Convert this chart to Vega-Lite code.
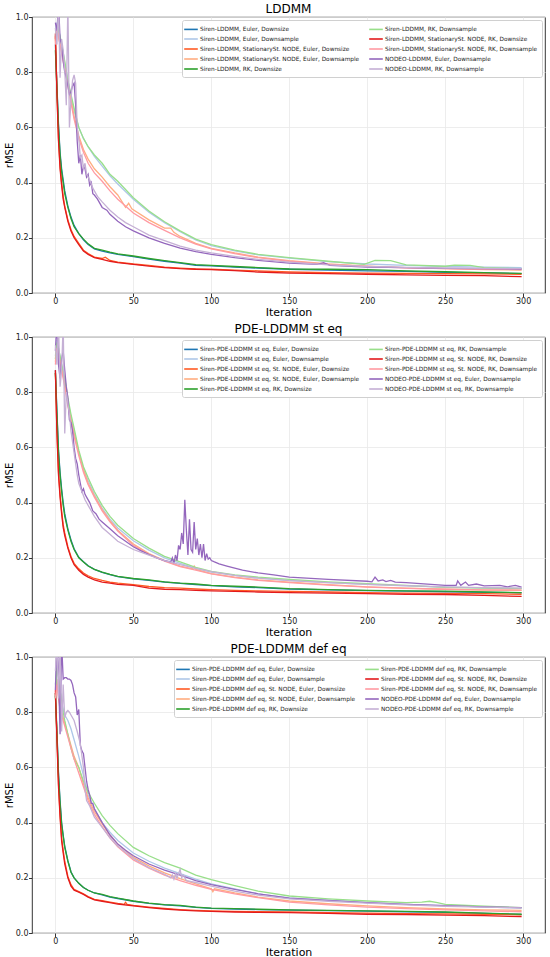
{
  "$schema": "https://vega.github.io/schema/vega-lite/v6.json",
  "padding": {"left": 3, "top": 2, "right": 2, "bottom": 0},
  "spacing": 4,
  "config": {
    "font": "DejaVu Sans",
    "view": {"stroke": "#000", "strokeWidth": 0.8},
    "axis": {"domain": false, "grid": true, "gridColor": "#e8e8e8", "gridWidth": 0.8, "tickColor": "#000", "tickSize": 3.5, "tickWidth": 0.8, "labelFontSize": 8, "labelColor": "#222", "labelPadding": 0.5, "titleFontSize": 10, "titleFontWeight": "normal", "titleColor": "#000", "titlePadding": 1},
    "axisX": {"titleFontSize": 11},
    "title": {"fontSize": 12, "fontWeight": "normal", "offset": -3, "color": "#000"},
    "legend": {"orient": "top-right", "offset": 3, "columns": 2, "symbolType": "M-1.7,0H1.7", "symbolSize": 64, "symbolStrokeWidth": 1.6, "labelFontSize": 5.8, "labelColor": "#222", "labelLimit": 300, "rowPadding": 1, "columnPadding": 6, "fillColor": "white", "strokeColor": "#d0d0d0", "padding": 4, "cornerRadius": 2, "title": null}
  },
  "datasets": {
    "names": [
      {"s":1,"n1":"Siren-LDDMM, Euler, Downsize","n2":"Siren-PDE-LDDMM st eq, Euler, Downsize","n3":"Siren-PDE-LDDMM def eq, Euler, Downsize"},
      {"s":2,"n1":"Siren-LDDMM, Euler, Downsample","n2":"Siren-PDE-LDDMM st eq, Euler, Downsample","n3":"Siren-PDE-LDDMM def eq, Euler, Downsample"},
      {"s":3,"n1":"Siren-LDDMM, StationarySt. NODE, Euler, Downsize","n2":"Siren-PDE-LDDMM st eq, St. NODE, Euler, Downsize","n3":"Siren-PDE-LDDMM def eq, St. NODE, Euler, Downsize"},
      {"s":4,"n1":"Siren-LDDMM, StationarySt. NODE, Euler, Downsample","n2":"Siren-PDE-LDDMM st eq, St. NODE, Euler, Downsample","n3":"Siren-PDE-LDDMM def eq, St. NODE, Euler, Downsample"},
      {"s":5,"n1":"Siren-LDDMM, RK, Downsize","n2":"Siren-PDE-LDDMM st eq, RK, Downsize","n3":"Siren-PDE-LDDMM def eq, RK, Downsize"},
      {"s":6,"n1":"Siren-LDDMM, RK, Downsample","n2":"Siren-PDE-LDDMM st eq, RK, Downsample","n3":"Siren-PDE-LDDMM def eq, RK, Downsample"},
      {"s":7,"n1":"Siren-LDDMM, StationarySt. NODE, RK, Downsize","n2":"Siren-PDE-LDDMM st eq, St. NODE, RK, Downsize","n3":"Siren-PDE-LDDMM def eq, St. NODE, RK, Downsize"},
      {"s":8,"n1":"Siren-LDDMM, StationarySt. NODE, RK, Downsample","n2":"Siren-PDE-LDDMM st eq, St. NODE, RK, Downsample","n3":"Siren-PDE-LDDMM def eq, St. NODE, RK, Downsample"},
      {"s":9,"n1":"NODEO-LDDMM, Euler, Downsample","n2":"NODEO-PDE-LDDMM st eq, Euler, Downsample","n3":"NODEO-PDE-LDDMM def eq, Euler, Downsample"},
      {"s":10,"n1":"NODEO-LDDMM, RK, Downsample","n2":"NODEO-PDE-LDDMM st eq, RK, Downsample","n3":"NODEO-PDE-LDDMM def eq, RK, Downsample"}
    ],
    "lddmm": [
      {"s":1,"x":0,"y":0.9},{"s":1,"x":1,"y":0.75},{"s":1,"x":2,"y":0.61},{"s":1,"x":3,"y":0.51},{"s":1,"x":4,"y":0.45},{"s":1,"x":5,"y":0.41},{"s":1,"x":6,"y":0.37},{"s":1,"x":8,"y":0.315},{"s":1,"x":10,"y":0.275},{"s":1,"x":12,"y":0.245},{"s":1,"x":15,"y":0.215},{"s":1,"x":18,"y":0.193},{"s":1,"x":21,"y":0.176},{"s":1,"x":25,"y":0.16},{"s":1,"x":30,"y":0.152},{"s":1,"x":35,"y":0.145},{"s":1,"x":40,"y":0.14},{"s":1,"x":50,"y":0.132},{"s":1,"x":60,"y":0.123},{"s":1,"x":70,"y":0.115},{"s":1,"x":80,"y":0.108},{"s":1,"x":90,"y":0.1},{"s":1,"x":100,"y":0.098},{"s":1,"x":115,"y":0.094},{"s":1,"x":130,"y":0.09},{"s":1,"x":150,"y":0.086},{"s":1,"x":175,"y":0.083},{"s":1,"x":200,"y":0.08},{"s":1,"x":225,"y":0.078},{"s":1,"x":250,"y":0.075},{"s":1,"x":275,"y":0.073},{"s":1,"x":299,"y":0.07},
      {"s":2,"x":0,"y":0.95},{"s":2,"x":1,"y":0.98},{"s":2,"x":2,"y":0.96},{"s":2,"x":3,"y":0.93},{"s":2,"x":4,"y":0.9},{"s":2,"x":5,"y":0.87},{"s":2,"x":6,"y":0.83},{"s":2,"x":8,"y":0.77},{"s":2,"x":10,"y":0.71},{"s":2,"x":12,"y":0.66},{"s":2,"x":15,"y":0.6},{"s":2,"x":18,"y":0.56},{"s":2,"x":21,"y":0.53},{"s":2,"x":25,"y":0.495},{"s":2,"x":30,"y":0.46},{"s":2,"x":35,"y":0.425},{"s":2,"x":40,"y":0.395},{"s":2,"x":50,"y":0.34},{"s":2,"x":60,"y":0.293},{"s":2,"x":70,"y":0.255},{"s":2,"x":80,"y":0.222},{"s":2,"x":90,"y":0.192},{"s":2,"x":100,"y":0.172},{"s":2,"x":115,"y":0.153},{"s":2,"x":130,"y":0.138},{"s":2,"x":150,"y":0.126},{"s":2,"x":175,"y":0.114},{"s":2,"x":200,"y":0.105},{"s":2,"x":225,"y":0.1},{"s":2,"x":250,"y":0.096},{"s":2,"x":275,"y":0.094},{"s":2,"x":299,"y":0.092},
      {"s":3,"x":0,"y":0.93},{"s":3,"x":1,"y":0.73},{"s":3,"x":2,"y":0.56},{"s":3,"x":3,"y":0.46},{"s":3,"x":4,"y":0.4},{"s":3,"x":5,"y":0.35},{"s":3,"x":6,"y":0.315},{"s":3,"x":8,"y":0.265},{"s":3,"x":10,"y":0.23},{"s":3,"x":12,"y":0.205},{"s":3,"x":15,"y":0.18},{"s":3,"x":18,"y":0.155},{"s":3,"x":21,"y":0.143},{"s":3,"x":25,"y":0.13},{"s":3,"x":30,"y":0.125},{"s":3,"x":32,"y":0.13},{"s":3,"x":35,"y":0.118},{"s":3,"x":40,"y":0.112},{"s":3,"x":50,"y":0.105},{"s":3,"x":60,"y":0.1},{"s":3,"x":70,"y":0.094},{"s":3,"x":80,"y":0.09},{"s":3,"x":90,"y":0.087},{"s":3,"x":100,"y":0.086},{"s":3,"x":115,"y":0.083},{"s":3,"x":130,"y":0.08},{"s":3,"x":150,"y":0.076},{"s":3,"x":175,"y":0.074},{"s":3,"x":200,"y":0.072},{"s":3,"x":225,"y":0.071},{"s":3,"x":250,"y":0.07},{"s":3,"x":275,"y":0.069},{"s":3,"x":299,"y":0.068},
      {"s":4,"x":0,"y":0.92},{"s":4,"x":1,"y":0.97},{"s":4,"x":2,"y":0.93},{"s":4,"x":3,"y":0.9},{"s":4,"x":4,"y":0.87},{"s":4,"x":5,"y":0.85},{"s":4,"x":6,"y":0.82},{"s":4,"x":8,"y":0.76},{"s":4,"x":10,"y":0.7},{"s":4,"x":12,"y":0.64},{"s":4,"x":15,"y":0.57},{"s":4,"x":18,"y":0.52},{"s":4,"x":21,"y":0.485},{"s":4,"x":25,"y":0.45},{"s":4,"x":30,"y":0.42},{"s":4,"x":35,"y":0.385},{"s":4,"x":40,"y":0.355},{"s":4,"x":45,"y":0.31},{"s":4,"x":47,"y":0.325},{"s":4,"x":49,"y":0.305},{"s":4,"x":60,"y":0.265},{"s":4,"x":70,"y":0.235},{"s":4,"x":74,"y":0.235},{"s":4,"x":76,"y":0.22},{"s":4,"x":80,"y":0.205},{"s":4,"x":90,"y":0.18},{"s":4,"x":100,"y":0.162},{"s":4,"x":115,"y":0.145},{"s":4,"x":130,"y":0.13},{"s":4,"x":150,"y":0.117},{"s":4,"x":175,"y":0.105},{"s":4,"x":200,"y":0.097},{"s":4,"x":225,"y":0.092},{"s":4,"x":250,"y":0.088},{"s":4,"x":275,"y":0.085},{"s":4,"x":299,"y":0.083},
      {"s":5,"x":0,"y":0.88},{"s":5,"x":1,"y":0.74},{"s":5,"x":2,"y":0.6},{"s":5,"x":3,"y":0.5},{"s":5,"x":4,"y":0.44},{"s":5,"x":5,"y":0.4},{"s":5,"x":6,"y":0.36},{"s":5,"x":8,"y":0.31},{"s":5,"x":10,"y":0.27},{"s":5,"x":12,"y":0.24},{"s":5,"x":15,"y":0.215},{"s":5,"x":18,"y":0.195},{"s":5,"x":21,"y":0.178},{"s":5,"x":25,"y":0.162},{"s":5,"x":30,"y":0.155},{"s":5,"x":35,"y":0.148},{"s":5,"x":40,"y":0.142},{"s":5,"x":50,"y":0.134},{"s":5,"x":60,"y":0.125},{"s":5,"x":70,"y":0.117},{"s":5,"x":80,"y":0.11},{"s":5,"x":90,"y":0.103},{"s":5,"x":100,"y":0.1},{"s":5,"x":115,"y":0.096},{"s":5,"x":130,"y":0.092},{"s":5,"x":150,"y":0.087},{"s":5,"x":175,"y":0.086},{"s":5,"x":200,"y":0.085},{"s":5,"x":225,"y":0.08},{"s":5,"x":250,"y":0.077},{"s":5,"x":275,"y":0.074},{"s":5,"x":299,"y":0.071},
      {"s":6,"x":0,"y":0.93},{"s":6,"x":1,"y":0.97},{"s":6,"x":2,"y":0.95},{"s":6,"x":3,"y":0.93},{"s":6,"x":4,"y":0.9},{"s":6,"x":5,"y":0.87},{"s":6,"x":6,"y":0.84},{"s":6,"x":8,"y":0.77},{"s":6,"x":10,"y":0.72},{"s":6,"x":12,"y":0.67},{"s":6,"x":15,"y":0.6},{"s":6,"x":18,"y":0.56},{"s":6,"x":21,"y":0.53},{"s":6,"x":25,"y":0.5},{"s":6,"x":30,"y":0.47},{"s":6,"x":35,"y":0.43},{"s":6,"x":40,"y":0.405},{"s":6,"x":50,"y":0.345},{"s":6,"x":60,"y":0.297},{"s":6,"x":70,"y":0.258},{"s":6,"x":80,"y":0.225},{"s":6,"x":90,"y":0.195},{"s":6,"x":100,"y":0.175},{"s":6,"x":115,"y":0.155},{"s":6,"x":130,"y":0.14},{"s":6,"x":150,"y":0.128},{"s":6,"x":175,"y":0.115},{"s":6,"x":198,"y":0.104},{"s":6,"x":205,"y":0.118},{"s":6,"x":215,"y":0.117},{"s":6,"x":225,"y":0.102},{"s":6,"x":250,"y":0.097},{"s":6,"x":256,"y":0.101},{"s":6,"x":266,"y":0.1},{"s":6,"x":275,"y":0.092},{"s":6,"x":299,"y":0.088},
      {"s":7,"x":0,"y":0.94},{"s":7,"x":1,"y":0.72},{"s":7,"x":2,"y":0.55},{"s":7,"x":3,"y":0.45},{"s":7,"x":4,"y":0.39},{"s":7,"x":5,"y":0.34},{"s":7,"x":6,"y":0.31},{"s":7,"x":8,"y":0.26},{"s":7,"x":10,"y":0.225},{"s":7,"x":12,"y":0.2},{"s":7,"x":15,"y":0.175},{"s":7,"x":18,"y":0.152},{"s":7,"x":21,"y":0.14},{"s":7,"x":25,"y":0.128},{"s":7,"x":30,"y":0.122},{"s":7,"x":35,"y":0.115},{"s":7,"x":40,"y":0.11},{"s":7,"x":50,"y":0.104},{"s":7,"x":60,"y":0.097},{"s":7,"x":70,"y":0.092},{"s":7,"x":80,"y":0.088},{"s":7,"x":90,"y":0.086},{"s":7,"x":100,"y":0.085},{"s":7,"x":115,"y":0.081},{"s":7,"x":130,"y":0.076},{"s":7,"x":150,"y":0.072},{"s":7,"x":175,"y":0.07},{"s":7,"x":200,"y":0.068},{"s":7,"x":225,"y":0.066},{"s":7,"x":250,"y":0.064},{"s":7,"x":275,"y":0.063},{"s":7,"x":299,"y":0.059},
      {"s":8,"x":0,"y":0.9},{"s":8,"x":1,"y":0.96},{"s":8,"x":2,"y":0.93},{"s":8,"x":3,"y":0.9},{"s":8,"x":4,"y":0.87},{"s":8,"x":5,"y":0.84},{"s":8,"x":6,"y":0.81},{"s":8,"x":8,"y":0.75},{"s":8,"x":10,"y":0.69},{"s":8,"x":12,"y":0.63},{"s":8,"x":15,"y":0.56},{"s":8,"x":18,"y":0.51},{"s":8,"x":21,"y":0.47},{"s":8,"x":25,"y":0.435},{"s":8,"x":30,"y":0.405},{"s":8,"x":35,"y":0.37},{"s":8,"x":40,"y":0.34},{"s":8,"x":50,"y":0.29},{"s":8,"x":60,"y":0.255},{"s":8,"x":70,"y":0.227},{"s":8,"x":80,"y":0.2},{"s":8,"x":90,"y":0.177},{"s":8,"x":100,"y":0.16},{"s":8,"x":115,"y":0.143},{"s":8,"x":130,"y":0.128},{"s":8,"x":150,"y":0.115},{"s":8,"x":175,"y":0.104},{"s":8,"x":200,"y":0.096},{"s":8,"x":225,"y":0.091},{"s":8,"x":250,"y":0.088},{"s":8,"x":275,"y":0.086},{"s":8,"x":299,"y":0.085},
      {"s":9,"x":0,"y":0.98},{"s":9,"x":1,"y":0.95},{"s":9,"x":2,"y":1.05},{"s":9,"x":3,"y":0.92},{"s":9,"x":4,"y":0.9},{"s":9,"x":5,"y":0.84},{"s":9,"x":6,"y":0.8},{"s":9,"x":7,"y":0.78},{"s":9,"x":8,"y":0.75},{"s":9,"x":9,"y":0.72},{"s":9,"x":10,"y":0.73},{"s":9,"x":11,"y":0.75},{"s":9,"x":12,"y":0.76},{"s":9,"x":13,"y":0.68},{"s":9,"x":14,"y":0.55},{"s":9,"x":15,"y":0.47},{"s":9,"x":16,"y":0.5},{"s":9,"x":17,"y":0.43},{"s":9,"x":18,"y":0.46},{"s":9,"x":19,"y":0.45},{"s":9,"x":20,"y":0.42},{"s":9,"x":21,"y":0.43},{"s":9,"x":22,"y":0.39},{"s":9,"x":23,"y":0.4},{"s":9,"x":24,"y":0.36},{"s":9,"x":25,"y":0.355},{"s":9,"x":27,"y":0.34},{"s":9,"x":28,"y":0.33},{"s":9,"x":30,"y":0.31},{"s":9,"x":33,"y":0.3},{"s":9,"x":35,"y":0.285},{"s":9,"x":40,"y":0.26},{"s":9,"x":45,"y":0.24},{"s":9,"x":50,"y":0.225},{"s":9,"x":60,"y":0.2},{"s":9,"x":70,"y":0.18},{"s":9,"x":80,"y":0.163},{"s":9,"x":90,"y":0.15},{"s":9,"x":100,"y":0.14},{"s":9,"x":115,"y":0.128},{"s":9,"x":130,"y":0.118},{"s":9,"x":150,"y":0.108},{"s":9,"x":168,"y":0.104},{"s":9,"x":172,"y":0.11},{"s":9,"x":176,"y":0.1},{"s":9,"x":200,"y":0.094},{"s":9,"x":225,"y":0.092},{"s":9,"x":250,"y":0.089},{"s":9,"x":275,"y":0.088},{"s":9,"x":299,"y":0.087},
      {"s":10,"x":0,"y":0.96},{"s":10,"x":1,"y":0.9},{"s":10,"x":2,"y":1.05},{"s":10,"x":3,"y":0.78},{"s":10,"x":4,"y":0.92},{"s":10,"x":5,"y":0.88},{"s":10,"x":6,"y":0.81},{"s":10,"x":7,"y":0.68},{"s":10,"x":8,"y":1.05},{"s":10,"x":9,"y":0.6},{"s":10,"x":10,"y":0.7},{"s":10,"x":11,"y":0.77},{"s":10,"x":12,"y":0.79},{"s":10,"x":13,"y":0.76},{"s":10,"x":14,"y":0.6},{"s":10,"x":15,"y":0.56},{"s":10,"x":16,"y":0.49},{"s":10,"x":17,"y":0.5},{"s":10,"x":18,"y":0.45},{"s":10,"x":19,"y":0.47},{"s":10,"x":20,"y":0.43},{"s":10,"x":22,"y":0.41},{"s":10,"x":24,"y":0.38},{"s":10,"x":25,"y":0.37},{"s":10,"x":27,"y":0.35},{"s":10,"x":30,"y":0.33},{"s":10,"x":35,"y":0.3},{"s":10,"x":40,"y":0.275},{"s":10,"x":45,"y":0.255},{"s":10,"x":50,"y":0.24},{"s":10,"x":60,"y":0.21},{"s":10,"x":70,"y":0.19},{"s":10,"x":80,"y":0.17},{"s":10,"x":90,"y":0.155},{"s":10,"x":100,"y":0.145},{"s":10,"x":115,"y":0.133},{"s":10,"x":130,"y":0.122},{"s":10,"x":150,"y":0.112},{"s":10,"x":175,"y":0.102},{"s":10,"x":200,"y":0.096},{"s":10,"x":225,"y":0.093},{"s":10,"x":250,"y":0.09},{"s":10,"x":275,"y":0.089},{"s":10,"x":299,"y":0.088}
    ],
    "st": [
      {"s":1,"x":0,"y":0.88},{"s":1,"x":1,"y":0.73},{"s":1,"x":2,"y":0.59},{"s":1,"x":3,"y":0.51},{"s":1,"x":4,"y":0.45},{"s":1,"x":5,"y":0.4},{"s":1,"x":6,"y":0.36},{"s":1,"x":8,"y":0.305},{"s":1,"x":10,"y":0.265},{"s":1,"x":12,"y":0.233},{"s":1,"x":15,"y":0.202},{"s":1,"x":18,"y":0.186},{"s":1,"x":21,"y":0.171},{"s":1,"x":25,"y":0.158},{"s":1,"x":30,"y":0.147},{"s":1,"x":35,"y":0.139},{"s":1,"x":40,"y":0.132},{"s":1,"x":50,"y":0.124},{"s":1,"x":60,"y":0.118},{"s":1,"x":70,"y":0.112},{"s":1,"x":80,"y":0.107},{"s":1,"x":90,"y":0.103},{"s":1,"x":100,"y":0.099},{"s":1,"x":115,"y":0.095},{"s":1,"x":130,"y":0.092},{"s":1,"x":150,"y":0.087},{"s":1,"x":175,"y":0.084},{"s":1,"x":200,"y":0.081},{"s":1,"x":225,"y":0.079},{"s":1,"x":250,"y":0.077},{"s":1,"x":275,"y":0.075},{"s":1,"x":299,"y":0.073},
      {"s":2,"x":0,"y":0.93},{"s":2,"x":1,"y":0.99},{"s":2,"x":2,"y":0.96},{"s":2,"x":3,"y":0.93},{"s":2,"x":4,"y":0.9},{"s":2,"x":5,"y":0.87},{"s":2,"x":6,"y":0.84},{"s":2,"x":8,"y":0.77},{"s":2,"x":10,"y":0.71},{"s":2,"x":12,"y":0.66},{"s":2,"x":15,"y":0.58},{"s":2,"x":18,"y":0.52},{"s":2,"x":21,"y":0.48},{"s":2,"x":25,"y":0.43},{"s":2,"x":30,"y":0.38},{"s":2,"x":35,"y":0.34},{"s":2,"x":40,"y":0.308},{"s":2,"x":50,"y":0.262},{"s":2,"x":60,"y":0.228},{"s":2,"x":70,"y":0.2},{"s":2,"x":80,"y":0.18},{"s":2,"x":90,"y":0.162},{"s":2,"x":100,"y":0.148},{"s":2,"x":115,"y":0.136},{"s":2,"x":130,"y":0.127},{"s":2,"x":150,"y":0.118},{"s":2,"x":175,"y":0.11},{"s":2,"x":200,"y":0.104},{"s":2,"x":225,"y":0.098},{"s":2,"x":250,"y":0.094},{"s":2,"x":275,"y":0.091},{"s":2,"x":299,"y":0.089},
      {"s":3,"x":0,"y":0.87},{"s":3,"x":1,"y":0.66},{"s":3,"x":2,"y":0.51},{"s":3,"x":3,"y":0.43},{"s":3,"x":4,"y":0.37},{"s":3,"x":5,"y":0.32},{"s":3,"x":6,"y":0.29},{"s":3,"x":8,"y":0.24},{"s":3,"x":10,"y":0.205},{"s":3,"x":12,"y":0.18},{"s":3,"x":15,"y":0.16},{"s":3,"x":18,"y":0.145},{"s":3,"x":21,"y":0.135},{"s":3,"x":25,"y":0.125},{"s":3,"x":30,"y":0.118},{"s":3,"x":35,"y":0.112},{"s":3,"x":40,"y":0.108},{"s":3,"x":50,"y":0.103},{"s":3,"x":60,"y":0.096},{"s":3,"x":70,"y":0.092},{"s":3,"x":80,"y":0.09},{"s":3,"x":90,"y":0.087},{"s":3,"x":100,"y":0.085},{"s":3,"x":115,"y":0.082},{"s":3,"x":130,"y":0.08},{"s":3,"x":150,"y":0.078},{"s":3,"x":175,"y":0.076},{"s":3,"x":200,"y":0.074},{"s":3,"x":225,"y":0.072},{"s":3,"x":250,"y":0.071},{"s":3,"x":275,"y":0.07},{"s":3,"x":299,"y":0.068},
      {"s":4,"x":0,"y":0.91},{"s":4,"x":1,"y":0.97},{"s":4,"x":2,"y":0.95},{"s":4,"x":3,"y":0.92},{"s":4,"x":4,"y":0.89},{"s":4,"x":5,"y":0.86},{"s":4,"x":6,"y":0.83},{"s":4,"x":8,"y":0.76},{"s":4,"x":10,"y":0.7},{"s":4,"x":12,"y":0.65},{"s":4,"x":15,"y":0.58},{"s":4,"x":18,"y":0.52},{"s":4,"x":21,"y":0.47},{"s":4,"x":25,"y":0.425},{"s":4,"x":30,"y":0.375},{"s":4,"x":35,"y":0.335},{"s":4,"x":40,"y":0.3},{"s":4,"x":50,"y":0.25},{"s":4,"x":60,"y":0.215},{"s":4,"x":70,"y":0.19},{"s":4,"x":80,"y":0.17},{"s":4,"x":88,"y":0.16},{"s":4,"x":89,"y":0.17},{"s":4,"x":90,"y":0.158},{"s":4,"x":100,"y":0.143},{"s":4,"x":115,"y":0.13},{"s":4,"x":130,"y":0.12},{"s":4,"x":150,"y":0.112},{"s":4,"x":175,"y":0.103},{"s":4,"x":200,"y":0.095},{"s":4,"x":225,"y":0.09},{"s":4,"x":250,"y":0.086},{"s":4,"x":275,"y":0.083},{"s":4,"x":299,"y":0.082},
      {"s":5,"x":0,"y":0.87},{"s":5,"x":1,"y":0.72},{"s":5,"x":2,"y":0.58},{"s":5,"x":3,"y":0.5},{"s":5,"x":4,"y":0.44},{"s":5,"x":5,"y":0.39},{"s":5,"x":6,"y":0.35},{"s":5,"x":8,"y":0.3},{"s":5,"x":10,"y":0.26},{"s":5,"x":12,"y":0.23},{"s":5,"x":15,"y":0.2},{"s":5,"x":18,"y":0.185},{"s":5,"x":21,"y":0.17},{"s":5,"x":25,"y":0.158},{"s":5,"x":30,"y":0.148},{"s":5,"x":35,"y":0.14},{"s":5,"x":40,"y":0.133},{"s":5,"x":50,"y":0.125},{"s":5,"x":60,"y":0.12},{"s":5,"x":70,"y":0.113},{"s":5,"x":80,"y":0.108},{"s":5,"x":90,"y":0.105},{"s":5,"x":100,"y":0.1},{"s":5,"x":115,"y":0.097},{"s":5,"x":130,"y":0.094},{"s":5,"x":150,"y":0.088},{"s":5,"x":175,"y":0.085},{"s":5,"x":200,"y":0.082},{"s":5,"x":225,"y":0.08},{"s":5,"x":250,"y":0.079},{"s":5,"x":275,"y":0.076},{"s":5,"x":299,"y":0.074},
      {"s":6,"x":0,"y":0.92},{"s":6,"x":1,"y":0.98},{"s":6,"x":2,"y":0.96},{"s":6,"x":3,"y":0.93},{"s":6,"x":4,"y":0.9},{"s":6,"x":5,"y":0.875},{"s":6,"x":6,"y":0.85},{"s":6,"x":8,"y":0.78},{"s":6,"x":10,"y":0.72},{"s":6,"x":12,"y":0.67},{"s":6,"x":15,"y":0.59},{"s":6,"x":18,"y":0.53},{"s":6,"x":21,"y":0.49},{"s":6,"x":25,"y":0.44},{"s":6,"x":30,"y":0.39},{"s":6,"x":35,"y":0.35},{"s":6,"x":40,"y":0.318},{"s":6,"x":50,"y":0.27},{"s":6,"x":60,"y":0.235},{"s":6,"x":70,"y":0.205},{"s":6,"x":80,"y":0.185},{"s":6,"x":90,"y":0.165},{"s":6,"x":100,"y":0.151},{"s":6,"x":115,"y":0.138},{"s":6,"x":130,"y":0.13},{"s":6,"x":150,"y":0.122},{"s":6,"x":175,"y":0.113},{"s":6,"x":200,"y":0.106},{"s":6,"x":225,"y":0.1},{"s":6,"x":250,"y":0.093},{"s":6,"x":275,"y":0.09},{"s":6,"x":299,"y":0.088},
      {"s":7,"x":0,"y":0.88},{"s":7,"x":1,"y":0.65},{"s":7,"x":2,"y":0.5},{"s":7,"x":3,"y":0.42},{"s":7,"x":4,"y":0.36},{"s":7,"x":5,"y":0.31},{"s":7,"x":6,"y":0.28},{"s":7,"x":8,"y":0.235},{"s":7,"x":10,"y":0.2},{"s":7,"x":12,"y":0.175},{"s":7,"x":15,"y":0.155},{"s":7,"x":18,"y":0.14},{"s":7,"x":21,"y":0.13},{"s":7,"x":25,"y":0.12},{"s":7,"x":30,"y":0.112},{"s":7,"x":35,"y":0.108},{"s":7,"x":40,"y":0.104},{"s":7,"x":50,"y":0.1},{"s":7,"x":60,"y":0.09},{"s":7,"x":70,"y":0.086},{"s":7,"x":80,"y":0.085},{"s":7,"x":90,"y":0.082},{"s":7,"x":100,"y":0.08},{"s":7,"x":115,"y":0.078},{"s":7,"x":130,"y":0.076},{"s":7,"x":150,"y":0.074},{"s":7,"x":175,"y":0.072},{"s":7,"x":200,"y":0.07},{"s":7,"x":225,"y":0.068},{"s":7,"x":250,"y":0.067},{"s":7,"x":275,"y":0.064},{"s":7,"x":299,"y":0.06},
      {"s":8,"x":0,"y":0.9},{"s":8,"x":1,"y":0.96},{"s":8,"x":2,"y":0.94},{"s":8,"x":3,"y":0.91},{"s":8,"x":4,"y":0.88},{"s":8,"x":5,"y":0.85},{"s":8,"x":6,"y":0.82},{"s":8,"x":8,"y":0.75},{"s":8,"x":10,"y":0.69},{"s":8,"x":12,"y":0.64},{"s":8,"x":15,"y":0.57},{"s":8,"x":18,"y":0.51},{"s":8,"x":21,"y":0.465},{"s":8,"x":25,"y":0.42},{"s":8,"x":30,"y":0.37},{"s":8,"x":35,"y":0.33},{"s":8,"x":40,"y":0.297},{"s":8,"x":50,"y":0.245},{"s":8,"x":60,"y":0.212},{"s":8,"x":70,"y":0.188},{"s":8,"x":80,"y":0.168},{"s":8,"x":90,"y":0.155},{"s":8,"x":100,"y":0.142},{"s":8,"x":115,"y":0.128},{"s":8,"x":130,"y":0.118},{"s":8,"x":150,"y":0.11},{"s":8,"x":175,"y":0.101},{"s":8,"x":200,"y":0.094},{"s":8,"x":225,"y":0.089},{"s":8,"x":250,"y":0.086},{"s":8,"x":275,"y":0.084},{"s":8,"x":299,"y":0.083},
      {"s":9,"x":0,"y":0.95},{"s":9,"x":1,"y":1.05},{"s":9,"x":2,"y":0.9},{"s":9,"x":3,"y":0.85},{"s":9,"x":4,"y":0.92},{"s":9,"x":5,"y":0.95},{"s":9,"x":6,"y":0.88},{"s":9,"x":7,"y":0.82},{"s":9,"x":8,"y":0.78},{"s":9,"x":9,"y":0.7},{"s":9,"x":10,"y":0.69},{"s":9,"x":11,"y":0.66},{"s":9,"x":12,"y":0.6},{"s":9,"x":13,"y":0.56},{"s":9,"x":14,"y":0.54},{"s":9,"x":15,"y":0.5},{"s":9,"x":16,"y":0.47},{"s":9,"x":17,"y":0.44},{"s":9,"x":18,"y":0.45},{"s":9,"x":19,"y":0.43},{"s":9,"x":20,"y":0.42},{"s":9,"x":22,"y":0.4},{"s":9,"x":24,"y":0.37},{"s":9,"x":26,"y":0.36},{"s":9,"x":28,"y":0.34},{"s":9,"x":30,"y":0.33},{"s":9,"x":35,"y":0.305},{"s":9,"x":40,"y":0.28},{"s":9,"x":45,"y":0.26},{"s":9,"x":50,"y":0.24},{"s":9,"x":55,"y":0.225},{"s":9,"x":60,"y":0.212},{"s":9,"x":65,"y":0.2},{"s":9,"x":70,"y":0.19},{"s":9,"x":74,"y":0.185},{"s":9,"x":75,"y":0.2},{"s":9,"x":76,"y":0.18},{"s":9,"x":77,"y":0.21},{"s":9,"x":78,"y":0.19},{"s":9,"x":79,"y":0.245},{"s":9,"x":80,"y":0.23},{"s":9,"x":81,"y":0.29},{"s":9,"x":82,"y":0.25},{"s":9,"x":83,"y":0.41},{"s":9,"x":84,"y":0.3},{"s":9,"x":85,"y":0.21},{"s":9,"x":86,"y":0.34},{"s":9,"x":87,"y":0.23},{"s":9,"x":88,"y":0.22},{"s":9,"x":89,"y":0.33},{"s":9,"x":90,"y":0.23},{"s":9,"x":91,"y":0.27},{"s":9,"x":92,"y":0.21},{"s":9,"x":93,"y":0.25},{"s":9,"x":94,"y":0.2},{"s":9,"x":95,"y":0.25},{"s":9,"x":96,"y":0.19},{"s":9,"x":97,"y":0.215},{"s":9,"x":98,"y":0.195},{"s":9,"x":99,"y":0.2},{"s":9,"x":100,"y":0.19},{"s":9,"x":102,"y":0.185},{"s":9,"x":105,"y":0.178},{"s":9,"x":110,"y":0.17},{"s":9,"x":120,"y":0.155},{"s":9,"x":130,"y":0.145},{"s":9,"x":140,"y":0.138},{"s":9,"x":150,"y":0.13},{"s":9,"x":175,"y":0.122},{"s":9,"x":200,"y":0.115},{"s":9,"x":203,"y":0.113},{"s":9,"x":205,"y":0.13},{"s":9,"x":207,"y":0.116},{"s":9,"x":210,"y":0.12},{"s":9,"x":212,"y":0.114},{"s":9,"x":215,"y":0.118},{"s":9,"x":218,"y":0.112},{"s":9,"x":225,"y":0.11},{"s":9,"x":250,"y":0.1},{"s":9,"x":257,"y":0.1},{"s":9,"x":258,"y":0.116},{"s":9,"x":260,"y":0.1},{"s":9,"x":263,"y":0.112},{"s":9,"x":265,"y":0.1},{"s":9,"x":270,"y":0.105},{"s":9,"x":275,"y":0.098},{"s":9,"x":285,"y":0.1},{"s":9,"x":290,"y":0.095},{"s":9,"x":295,"y":0.1},{"s":9,"x":299,"y":0.094},
      {"s":10,"x":0,"y":0.97},{"s":10,"x":1,"y":0.9},{"s":10,"x":2,"y":1.05},{"s":10,"x":3,"y":0.82},{"s":10,"x":4,"y":0.88},{"s":10,"x":5,"y":1.05},{"s":10,"x":6,"y":0.65},{"s":10,"x":7,"y":0.8},{"s":10,"x":8,"y":0.76},{"s":10,"x":9,"y":0.72},{"s":10,"x":10,"y":0.66},{"s":10,"x":12,"y":0.58},{"s":10,"x":14,"y":0.5},{"s":10,"x":15,"y":0.47},{"s":10,"x":17,"y":0.44},{"s":10,"x":19,"y":0.41},{"s":10,"x":21,"y":0.39},{"s":10,"x":25,"y":0.35},{"s":10,"x":30,"y":0.31},{"s":10,"x":35,"y":0.285},{"s":10,"x":40,"y":0.26},{"s":10,"x":50,"y":0.23},{"s":10,"x":60,"y":0.21},{"s":10,"x":70,"y":0.19},{"s":10,"x":80,"y":0.175},{"s":10,"x":90,"y":0.162},{"s":10,"x":100,"y":0.15},{"s":10,"x":115,"y":0.136},{"s":10,"x":130,"y":0.126},{"s":10,"x":150,"y":0.117},{"s":10,"x":175,"y":0.11},{"s":10,"x":200,"y":0.104},{"s":10,"x":225,"y":0.099},{"s":10,"x":250,"y":0.095},{"s":10,"x":275,"y":0.092},{"s":10,"x":299,"y":0.09}
    ],
    "def": [
      {"s":1,"x":0,"y":0.87},{"s":1,"x":1,"y":0.73},{"s":1,"x":2,"y":0.58},{"s":1,"x":3,"y":0.48},{"s":1,"x":4,"y":0.4},{"s":1,"x":5,"y":0.355},{"s":1,"x":6,"y":0.315},{"s":1,"x":8,"y":0.262},{"s":1,"x":10,"y":0.222},{"s":1,"x":12,"y":0.2},{"s":1,"x":15,"y":0.18},{"s":1,"x":18,"y":0.165},{"s":1,"x":21,"y":0.155},{"s":1,"x":25,"y":0.145},{"s":1,"x":30,"y":0.138},{"s":1,"x":35,"y":0.13},{"s":1,"x":40,"y":0.125},{"s":1,"x":50,"y":0.115},{"s":1,"x":60,"y":0.107},{"s":1,"x":70,"y":0.102},{"s":1,"x":80,"y":0.098},{"s":1,"x":90,"y":0.093},{"s":1,"x":100,"y":0.089},{"s":1,"x":115,"y":0.087},{"s":1,"x":130,"y":0.085},{"s":1,"x":150,"y":0.083},{"s":1,"x":175,"y":0.081},{"s":1,"x":200,"y":0.079},{"s":1,"x":225,"y":0.077},{"s":1,"x":250,"y":0.075},{"s":1,"x":275,"y":0.071},{"s":1,"x":299,"y":0.067},
      {"s":2,"x":0,"y":0.9},{"s":2,"x":1,"y":0.97},{"s":2,"x":2,"y":0.93},{"s":2,"x":3,"y":0.88},{"s":2,"x":4,"y":0.84},{"s":2,"x":5,"y":0.81},{"s":2,"x":6,"y":0.79},{"s":2,"x":8,"y":0.77},{"s":2,"x":10,"y":0.74},{"s":2,"x":12,"y":0.7},{"s":2,"x":15,"y":0.64},{"s":2,"x":18,"y":0.57},{"s":2,"x":21,"y":0.5},{"s":2,"x":25,"y":0.45},{"s":2,"x":30,"y":0.4},{"s":2,"x":35,"y":0.365},{"s":2,"x":40,"y":0.335},{"s":2,"x":50,"y":0.29},{"s":2,"x":60,"y":0.26},{"s":2,"x":70,"y":0.235},{"s":2,"x":80,"y":0.215},{"s":2,"x":90,"y":0.195},{"s":2,"x":100,"y":0.178},{"s":2,"x":115,"y":0.16},{"s":2,"x":130,"y":0.142},{"s":2,"x":150,"y":0.127},{"s":2,"x":175,"y":0.118},{"s":2,"x":200,"y":0.11},{"s":2,"x":225,"y":0.104},{"s":2,"x":250,"y":0.099},{"s":2,"x":275,"y":0.095},{"s":2,"x":299,"y":0.09},
      {"s":3,"x":0,"y":0.87},{"s":3,"x":1,"y":0.71},{"s":3,"x":2,"y":0.54},{"s":3,"x":3,"y":0.43},{"s":3,"x":4,"y":0.345},{"s":3,"x":5,"y":0.3},{"s":3,"x":6,"y":0.26},{"s":3,"x":8,"y":0.205},{"s":3,"x":10,"y":0.175},{"s":3,"x":12,"y":0.158},{"s":3,"x":15,"y":0.15},{"s":3,"x":18,"y":0.142},{"s":3,"x":21,"y":0.132},{"s":3,"x":25,"y":0.122},{"s":3,"x":30,"y":0.117},{"s":3,"x":35,"y":0.112},{"s":3,"x":40,"y":0.107},{"s":3,"x":44,"y":0.104},{"s":3,"x":45,"y":0.111},{"s":3,"x":46,"y":0.104},{"s":3,"x":50,"y":0.1},{"s":3,"x":60,"y":0.094},{"s":3,"x":70,"y":0.089},{"s":3,"x":80,"y":0.085},{"s":3,"x":90,"y":0.082},{"s":3,"x":100,"y":0.08},{"s":3,"x":115,"y":0.078},{"s":3,"x":130,"y":0.077},{"s":3,"x":150,"y":0.076},{"s":3,"x":175,"y":0.074},{"s":3,"x":200,"y":0.072},{"s":3,"x":225,"y":0.07},{"s":3,"x":250,"y":0.069},{"s":3,"x":275,"y":0.068},{"s":3,"x":299,"y":0.066},
      {"s":4,"x":0,"y":0.86},{"s":4,"x":1,"y":0.92},{"s":4,"x":2,"y":0.86},{"s":4,"x":3,"y":0.82},{"s":4,"x":4,"y":0.8},{"s":4,"x":5,"y":0.78},{"s":4,"x":6,"y":0.76},{"s":4,"x":8,"y":0.72},{"s":4,"x":10,"y":0.68},{"s":4,"x":12,"y":0.64},{"s":4,"x":15,"y":0.6},{"s":4,"x":18,"y":0.54},{"s":4,"x":21,"y":0.49},{"s":4,"x":25,"y":0.44},{"s":4,"x":30,"y":0.395},{"s":4,"x":35,"y":0.355},{"s":4,"x":40,"y":0.322},{"s":4,"x":50,"y":0.274},{"s":4,"x":60,"y":0.243},{"s":4,"x":70,"y":0.218},{"s":4,"x":80,"y":0.197},{"s":4,"x":90,"y":0.178},{"s":4,"x":100,"y":0.16},{"s":4,"x":101,"y":0.15},{"s":4,"x":102,"y":0.16},{"s":4,"x":115,"y":0.145},{"s":4,"x":130,"y":0.13},{"s":4,"x":150,"y":0.116},{"s":4,"x":175,"y":0.106},{"s":4,"x":200,"y":0.098},{"s":4,"x":225,"y":0.092},{"s":4,"x":250,"y":0.087},{"s":4,"x":275,"y":0.084},{"s":4,"x":299,"y":0.082},
      {"s":5,"x":0,"y":0.86},{"s":5,"x":1,"y":0.72},{"s":5,"x":2,"y":0.57},{"s":5,"x":3,"y":0.47},{"s":5,"x":4,"y":0.395},{"s":5,"x":5,"y":0.35},{"s":5,"x":6,"y":0.31},{"s":5,"x":8,"y":0.26},{"s":5,"x":10,"y":0.22},{"s":5,"x":12,"y":0.2},{"s":5,"x":15,"y":0.18},{"s":5,"x":18,"y":0.165},{"s":5,"x":21,"y":0.155},{"s":5,"x":25,"y":0.145},{"s":5,"x":30,"y":0.14},{"s":5,"x":35,"y":0.132},{"s":5,"x":40,"y":0.126},{"s":5,"x":50,"y":0.116},{"s":5,"x":60,"y":0.108},{"s":5,"x":70,"y":0.103},{"s":5,"x":80,"y":0.1},{"s":5,"x":90,"y":0.094},{"s":5,"x":100,"y":0.09},{"s":5,"x":115,"y":0.088},{"s":5,"x":130,"y":0.086},{"s":5,"x":150,"y":0.084},{"s":5,"x":175,"y":0.082},{"s":5,"x":200,"y":0.08},{"s":5,"x":225,"y":0.078},{"s":5,"x":250,"y":0.076},{"s":5,"x":275,"y":0.072},{"s":5,"x":299,"y":0.068},
      {"s":6,"x":0,"y":0.85},{"s":6,"x":1,"y":0.96},{"s":6,"x":2,"y":0.93},{"s":6,"x":3,"y":0.88},{"s":6,"x":4,"y":0.84},{"s":6,"x":5,"y":0.8},{"s":6,"x":6,"y":0.77},{"s":6,"x":8,"y":0.72},{"s":6,"x":10,"y":0.67},{"s":6,"x":12,"y":0.63},{"s":6,"x":15,"y":0.6},{"s":6,"x":18,"y":0.55},{"s":6,"x":21,"y":0.51},{"s":6,"x":25,"y":0.47},{"s":6,"x":30,"y":0.425},{"s":6,"x":35,"y":0.39},{"s":6,"x":40,"y":0.36},{"s":6,"x":50,"y":0.31},{"s":6,"x":55,"y":0.295},{"s":6,"x":60,"y":0.28},{"s":6,"x":70,"y":0.255},{"s":6,"x":80,"y":0.235},{"s":6,"x":90,"y":0.21},{"s":6,"x":100,"y":0.193},{"s":6,"x":115,"y":0.172},{"s":6,"x":130,"y":0.152},{"s":6,"x":150,"y":0.134},{"s":6,"x":175,"y":0.124},{"s":6,"x":200,"y":0.116},{"s":6,"x":225,"y":0.11},{"s":6,"x":235,"y":0.112},{"s":6,"x":240,"y":0.115},{"s":6,"x":245,"y":0.11},{"s":6,"x":250,"y":0.104},{"s":6,"x":275,"y":0.097},{"s":6,"x":299,"y":0.092},
      {"s":7,"x":0,"y":0.88},{"s":7,"x":1,"y":0.7},{"s":7,"x":2,"y":0.53},{"s":7,"x":3,"y":0.42},{"s":7,"x":4,"y":0.334},{"s":7,"x":5,"y":0.29},{"s":7,"x":6,"y":0.25},{"s":7,"x":8,"y":0.2},{"s":7,"x":10,"y":0.17},{"s":7,"x":12,"y":0.155},{"s":7,"x":15,"y":0.148},{"s":7,"x":18,"y":0.14},{"s":7,"x":21,"y":0.13},{"s":7,"x":25,"y":0.12},{"s":7,"x":30,"y":0.115},{"s":7,"x":35,"y":0.11},{"s":7,"x":40,"y":0.105},{"s":7,"x":50,"y":0.098},{"s":7,"x":60,"y":0.092},{"s":7,"x":70,"y":0.087},{"s":7,"x":80,"y":0.083},{"s":7,"x":90,"y":0.08},{"s":7,"x":100,"y":0.078},{"s":7,"x":115,"y":0.076},{"s":7,"x":130,"y":0.075},{"s":7,"x":150,"y":0.074},{"s":7,"x":175,"y":0.071},{"s":7,"x":200,"y":0.068},{"s":7,"x":225,"y":0.067},{"s":7,"x":250,"y":0.065},{"s":7,"x":275,"y":0.063},{"s":7,"x":299,"y":0.059},
      {"s":8,"x":0,"y":0.85},{"s":8,"x":1,"y":0.9},{"s":8,"x":2,"y":0.85},{"s":8,"x":3,"y":0.81},{"s":8,"x":4,"y":0.79},{"s":8,"x":5,"y":0.77},{"s":8,"x":6,"y":0.75},{"s":8,"x":8,"y":0.71},{"s":8,"x":10,"y":0.67},{"s":8,"x":12,"y":0.63},{"s":8,"x":15,"y":0.58},{"s":8,"x":18,"y":0.53},{"s":8,"x":21,"y":0.48},{"s":8,"x":25,"y":0.43},{"s":8,"x":30,"y":0.385},{"s":8,"x":35,"y":0.345},{"s":8,"x":40,"y":0.312},{"s":8,"x":50,"y":0.265},{"s":8,"x":60,"y":0.235},{"s":8,"x":70,"y":0.21},{"s":8,"x":80,"y":0.19},{"s":8,"x":90,"y":0.173},{"s":8,"x":100,"y":0.158},{"s":8,"x":115,"y":0.142},{"s":8,"x":130,"y":0.128},{"s":8,"x":150,"y":0.112},{"s":8,"x":175,"y":0.102},{"s":8,"x":200,"y":0.094},{"s":8,"x":225,"y":0.088},{"s":8,"x":250,"y":0.084},{"s":8,"x":275,"y":0.08},{"s":8,"x":299,"y":0.077},
      {"s":9,"x":0,"y":0.88},{"s":9,"x":1,"y":1.05},{"s":9,"x":2,"y":0.95},{"s":9,"x":3,"y":0.72},{"s":9,"x":4,"y":1.05},{"s":9,"x":5,"y":0.92},{"s":9,"x":6,"y":0.925},{"s":9,"x":7,"y":0.925},{"s":9,"x":8,"y":0.92},{"s":9,"x":9,"y":0.92},{"s":9,"x":10,"y":0.915},{"s":9,"x":11,"y":0.9},{"s":9,"x":12,"y":0.87},{"s":9,"x":13,"y":0.855},{"s":9,"x":14,"y":0.79},{"s":9,"x":15,"y":0.81},{"s":9,"x":16,"y":0.68},{"s":9,"x":17,"y":0.66},{"s":9,"x":18,"y":0.65},{"s":9,"x":19,"y":0.6},{"s":9,"x":20,"y":0.55},{"s":9,"x":21,"y":0.52},{"s":9,"x":22,"y":0.5},{"s":9,"x":23,"y":0.47},{"s":9,"x":24,"y":0.47},{"s":9,"x":25,"y":0.45},{"s":9,"x":27,"y":0.43},{"s":9,"x":30,"y":0.4},{"s":9,"x":35,"y":0.355},{"s":9,"x":40,"y":0.322},{"s":9,"x":45,"y":0.3},{"s":9,"x":50,"y":0.28},{"s":9,"x":60,"y":0.25},{"s":9,"x":70,"y":0.228},{"s":9,"x":80,"y":0.21},{"s":9,"x":90,"y":0.19},{"s":9,"x":100,"y":0.175},{"s":9,"x":115,"y":0.158},{"s":9,"x":130,"y":0.142},{"s":9,"x":150,"y":0.126},{"s":9,"x":175,"y":0.118},{"s":9,"x":200,"y":0.11},{"s":9,"x":225,"y":0.104},{"s":9,"x":250,"y":0.099},{"s":9,"x":275,"y":0.095},{"s":9,"x":299,"y":0.092},
      {"s":10,"x":0,"y":0.95},{"s":10,"x":1,"y":1.05},{"s":10,"x":2,"y":0.85},{"s":10,"x":3,"y":1.05},{"s":10,"x":4,"y":0.73},{"s":10,"x":5,"y":0.9},{"s":10,"x":6,"y":0.78},{"s":10,"x":7,"y":0.8},{"s":10,"x":8,"y":0.806},{"s":10,"x":9,"y":0.8},{"s":10,"x":10,"y":0.79},{"s":10,"x":12,"y":0.77},{"s":10,"x":14,"y":0.73},{"s":10,"x":16,"y":0.685},{"s":10,"x":18,"y":0.6},{"s":10,"x":19,"y":0.52},{"s":10,"x":20,"y":0.48},{"s":10,"x":21,"y":0.47},{"s":10,"x":22,"y":0.46},{"s":10,"x":25,"y":0.42},{"s":10,"x":30,"y":0.383},{"s":10,"x":35,"y":0.345},{"s":10,"x":40,"y":0.315},{"s":10,"x":50,"y":0.27},{"s":10,"x":60,"y":0.237},{"s":10,"x":70,"y":0.213},{"s":10,"x":74,"y":0.2},{"s":10,"x":75,"y":0.21},{"s":10,"x":76,"y":0.195},{"s":10,"x":77,"y":0.215},{"s":10,"x":78,"y":0.2},{"s":10,"x":80,"y":0.23},{"s":10,"x":81,"y":0.2},{"s":10,"x":82,"y":0.21},{"s":10,"x":84,"y":0.19},{"s":10,"x":90,"y":0.183},{"s":10,"x":100,"y":0.17},{"s":10,"x":115,"y":0.152},{"s":10,"x":130,"y":0.137},{"s":10,"x":150,"y":0.124},{"s":10,"x":175,"y":0.115},{"s":10,"x":200,"y":0.108},{"s":10,"x":225,"y":0.102},{"s":10,"x":250,"y":0.097},{"s":10,"x":275,"y":0.094},{"s":10,"x":299,"y":0.091}
    ]
  },
  "resolve": {"scale": {"color": "independent"}, "legend": {"color": "independent"}},
  "vconcat": [
    {
      "title": "LDDMM",
      "width": 513,
      "height": 276,
      "data": {"name": "lddmm"},
      "transform": [{"lookup": "s", "from": {"data": {"name": "names"}, "key": "s", "fields": ["n1"]}}],
      "mark": {"type": "line", "strokeWidth": 1.3, "clip": true},
      "encoding": {
        "x": {"field": "x", "type": "quantitative", "title": "Iteration", "scale": {"domain": [-15, 314], "nice": false, "zero": false}, "axis": {"values": [0, 50, 100, 150, 200, 250, 300]}},
        "y": {"field": "y", "type": "quantitative", "title": "rMSE", "scale": {"domain": [0, 1], "nice": false}, "axis": {"values": [0, 0.2, 0.4, 0.6, 0.8, 1], "format": ".1f"}},
        "color": {"field": "n1", "type": "nominal", "sort": {"field": "s", "op": "min"}, "scale": {"range": ["#1f77b4", "#aec7e8", "#ff5b24", "#ffad80", "#2ca02c", "#98df8a", "#e31a1c", "#ff9aa2", "#9467bd", "#c5b0d5"]}}
      }
    },
    {
      "title": "PDE-LDDMM st eq",
      "width": 513,
      "height": 276,
      "data": {"name": "st"},
      "transform": [{"lookup": "s", "from": {"data": {"name": "names"}, "key": "s", "fields": ["n2"]}}],
      "mark": {"type": "line", "strokeWidth": 1.3, "clip": true},
      "encoding": {
        "x": {"field": "x", "type": "quantitative", "title": "Iteration", "scale": {"domain": [-15, 314], "nice": false, "zero": false}, "axis": {"values": [0, 50, 100, 150, 200, 250, 300]}},
        "y": {"field": "y", "type": "quantitative", "title": "rMSE", "scale": {"domain": [0, 1], "nice": false}, "axis": {"values": [0, 0.2, 0.4, 0.6, 0.8, 1], "format": ".1f"}},
        "color": {"field": "n2", "type": "nominal", "sort": {"field": "s", "op": "min"}, "scale": {"range": ["#1f77b4", "#aec7e8", "#ff5b24", "#ffad80", "#2ca02c", "#98df8a", "#e31a1c", "#ff9aa2", "#9467bd", "#c5b0d5"]}}
      }
    },
    {
      "title": "PDE-LDDMM def eq",
      "width": 513,
      "height": 276,
      "data": {"name": "def"},
      "transform": [{"lookup": "s", "from": {"data": {"name": "names"}, "key": "s", "fields": ["n3"]}}],
      "mark": {"type": "line", "strokeWidth": 1.3, "clip": true},
      "encoding": {
        "x": {"field": "x", "type": "quantitative", "title": "Iteration", "scale": {"domain": [-15, 314], "nice": false, "zero": false}, "axis": {"values": [0, 50, 100, 150, 200, 250, 300]}},
        "y": {"field": "y", "type": "quantitative", "title": "rMSE", "scale": {"domain": [0, 1], "nice": false}, "axis": {"values": [0, 0.2, 0.4, 0.6, 0.8, 1], "format": ".1f"}},
        "color": {"field": "n3", "type": "nominal", "sort": {"field": "s", "op": "min"}, "scale": {"range": ["#1f77b4", "#aec7e8", "#ff5b24", "#ffad80", "#2ca02c", "#98df8a", "#e31a1c", "#ff9aa2", "#9467bd", "#c5b0d5"]}}
      }
    }
  ]
}
